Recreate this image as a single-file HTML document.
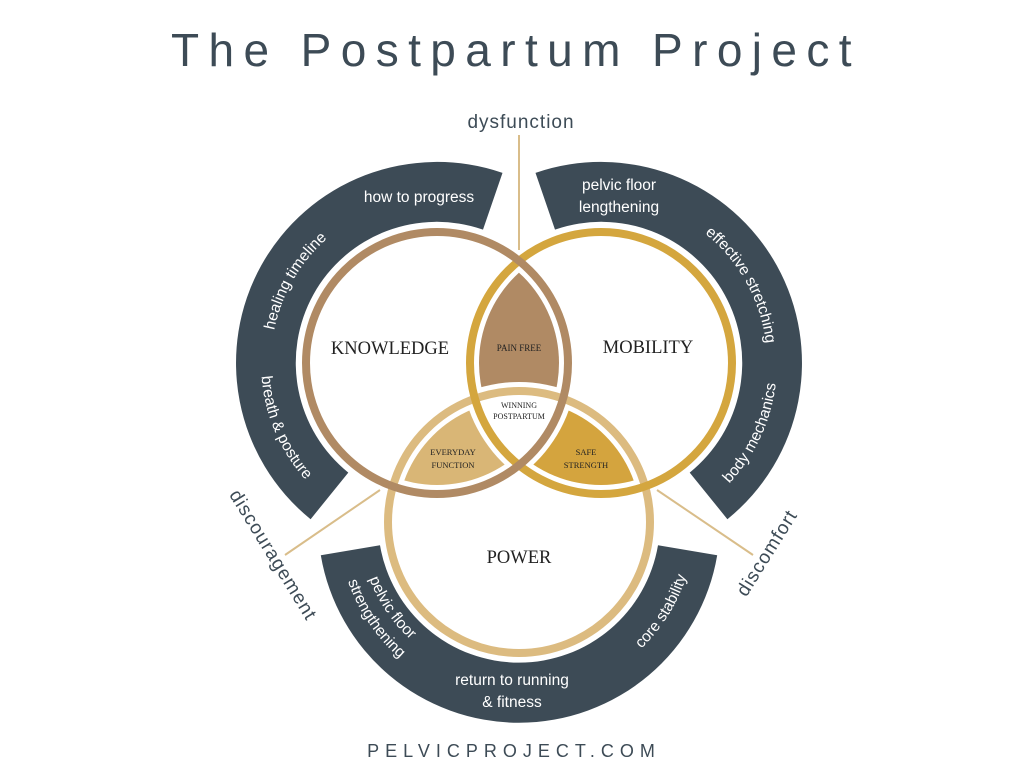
<!DOCTYPE html>
<html><head><meta charset="utf-8"><style>
html,body{margin:0;padding:0;background:#fff;}
svg{display:block;}
</style></head><body>
<svg width="1024" height="768" viewBox="0 0 1024 768" xmlns="http://www.w3.org/2000/svg">
<defs>
<clipPath id="cM"><circle cx="601" cy="363" r="122"/></clipPath>
<clipPath id="cP"><circle cx="519" cy="522" r="122"/></clipPath>
<mask id="mP"><rect width="1024" height="768" fill="#fff"/><circle cx="519" cy="522" r="140" fill="#000"/></mask>
<mask id="mM"><rect width="1024" height="768" fill="#fff"/><circle cx="601" cy="363" r="140" fill="#000"/></mask>
<mask id="mK"><rect width="1024" height="768" fill="#fff"/><circle cx="437" cy="363" r="140" fill="#000"/></mask>
<path id="t2" d="M281.0,419.8 A166,166 0 0 1 408.2,199.5"/>
<path id="t3" d="M280.2,283.1 A176,176 0 0 0 385.5,531.3"/>
<path id="t4" d="M632.7,200 A166,166 0 0 1 756,422.5"/>
<path id="t5" d="M646.6,533 A176,176 0 0 0 760.5,288.6"/>
<path id="t6" d="M361.9,491.5 A160,160 0 0 0 488.5,679.1"/>
<path id="t7" d="M341.3,487.4 A181,181 0 0 0 484.4,699.7"/>
<path id="t8" d="M543.5,696.3 A176,176 0 0 0 686.4,467.6"/>
</defs>

<text x="516" y="66" text-anchor="middle" font-family="Liberation Sans, sans-serif" font-size="46" letter-spacing="9.4" fill="#3d4b56">The Postpartum Project</text>
<text x="514" y="757" text-anchor="middle" font-family="Liberation Sans, sans-serif" font-size="18" letter-spacing="6" fill="#3d4b56">PELVICPROJECT.COM</text>

<g stroke="#d9bd8a" stroke-width="2">
<line x1="519" y1="135" x2="519" y2="250"/>
<line x1="380" y1="490" x2="285" y2="555"/>
<line x1="657" y1="490" x2="753" y2="555"/>
</g>
<text x="521" y="128" text-anchor="middle" font-family="Liberation Sans, sans-serif" font-size="19" letter-spacing="1" fill="#3d4b56">dysfunction</text>
<text transform="translate(273,555) rotate(58.4)" text-anchor="middle" y="6" font-family="Liberation Sans, sans-serif" font-size="19" letter-spacing="1" fill="#3d4b56">discouragement</text>
<text transform="translate(767,553) rotate(-58)" text-anchor="middle" y="6" font-family="Liberation Sans, sans-serif" font-size="19" letter-spacing="1" fill="#3d4b56">discomfort</text>

<g fill="#3d4b56">
<path d="M310.6,519.2 A201,201 0 0 1 502.5,172.9 L483,229.6 A141,141 0 0 0 348.3,472.6 Z"/>
<path d="M535.5,172.9 A201,201 0 0 1 727.4,519.2 L689.7,472.6 A141,141 0 0 0 555,229.6 Z"/>
<path d="M717.2,555.2 A201,201 0 0 1 320.8,555.2 L380,545.3 A141,141 0 0 0 658,545.3 Z"/>
</g>

<g font-family="Liberation Sans, sans-serif" font-size="15.5" fill="#fff" text-anchor="middle">
<text x="419" y="202">how to progress</text>
<text><textPath href="#t2" startOffset="50%">healing timeline</textPath></text>
<text><textPath href="#t3" startOffset="50%">breath &amp; posture</textPath></text>
<text><textPath href="#t4" startOffset="50%">effective stretching</textPath></text>
<text><textPath href="#t5" startOffset="50%">body mechanics</textPath></text>
<text><textPath href="#t6" startOffset="50%">pelvic floor</textPath></text>
<text><textPath href="#t7" startOffset="50%">strengthening</textPath></text>
<text><textPath href="#t8" startOffset="50%">core stability</textPath></text>
<text x="619" y="190">pelvic floor</text>
<text x="619" y="212">lengthening</text>
<text x="512" y="685">return to running</text>
<text x="512" y="707">&amp; fitness</text>
</g>

<g mask="url(#mP)"><g clip-path="url(#cM)"><circle cx="437" cy="363" r="122" fill="#b08a64"/></g></g>
<g mask="url(#mM)"><g clip-path="url(#cP)"><circle cx="437" cy="363" r="122" fill="#d9b676"/></g></g>
<g mask="url(#mK)"><g clip-path="url(#cP)"><circle cx="601" cy="363" r="122" fill="#d4a43e"/></g></g>

<g fill="none" stroke-width="8">
<circle cx="519" cy="522" r="131" stroke="#dcbb80"/>
<circle cx="601" cy="363" r="131" stroke="#d4a63e"/>
<circle cx="437" cy="363" r="131" stroke="#b08a64"/>
</g>

<g font-family="Liberation Serif, serif" fill="#222" text-anchor="middle">
<text x="390" y="354" font-size="18.5">KNOWLEDGE</text>
<text x="648" y="353" font-size="18.5">MOBILITY</text>
<text x="519" y="563" font-size="18.5">POWER</text>
<text x="519" y="351" font-size="9">PAIN FREE</text>
<text x="519" y="408" font-size="8">WINNING</text>
<text x="519" y="419" font-size="8">POSTPARTUM</text>
<text x="453" y="455" font-size="8.5">EVERYDAY</text>
<text x="453" y="468" font-size="8.5">FUNCTION</text>
<text x="586" y="455" font-size="8.5">SAFE</text>
<text x="586" y="468" font-size="8.5">STRENGTH</text>
</g>
</svg>
</body></html>
